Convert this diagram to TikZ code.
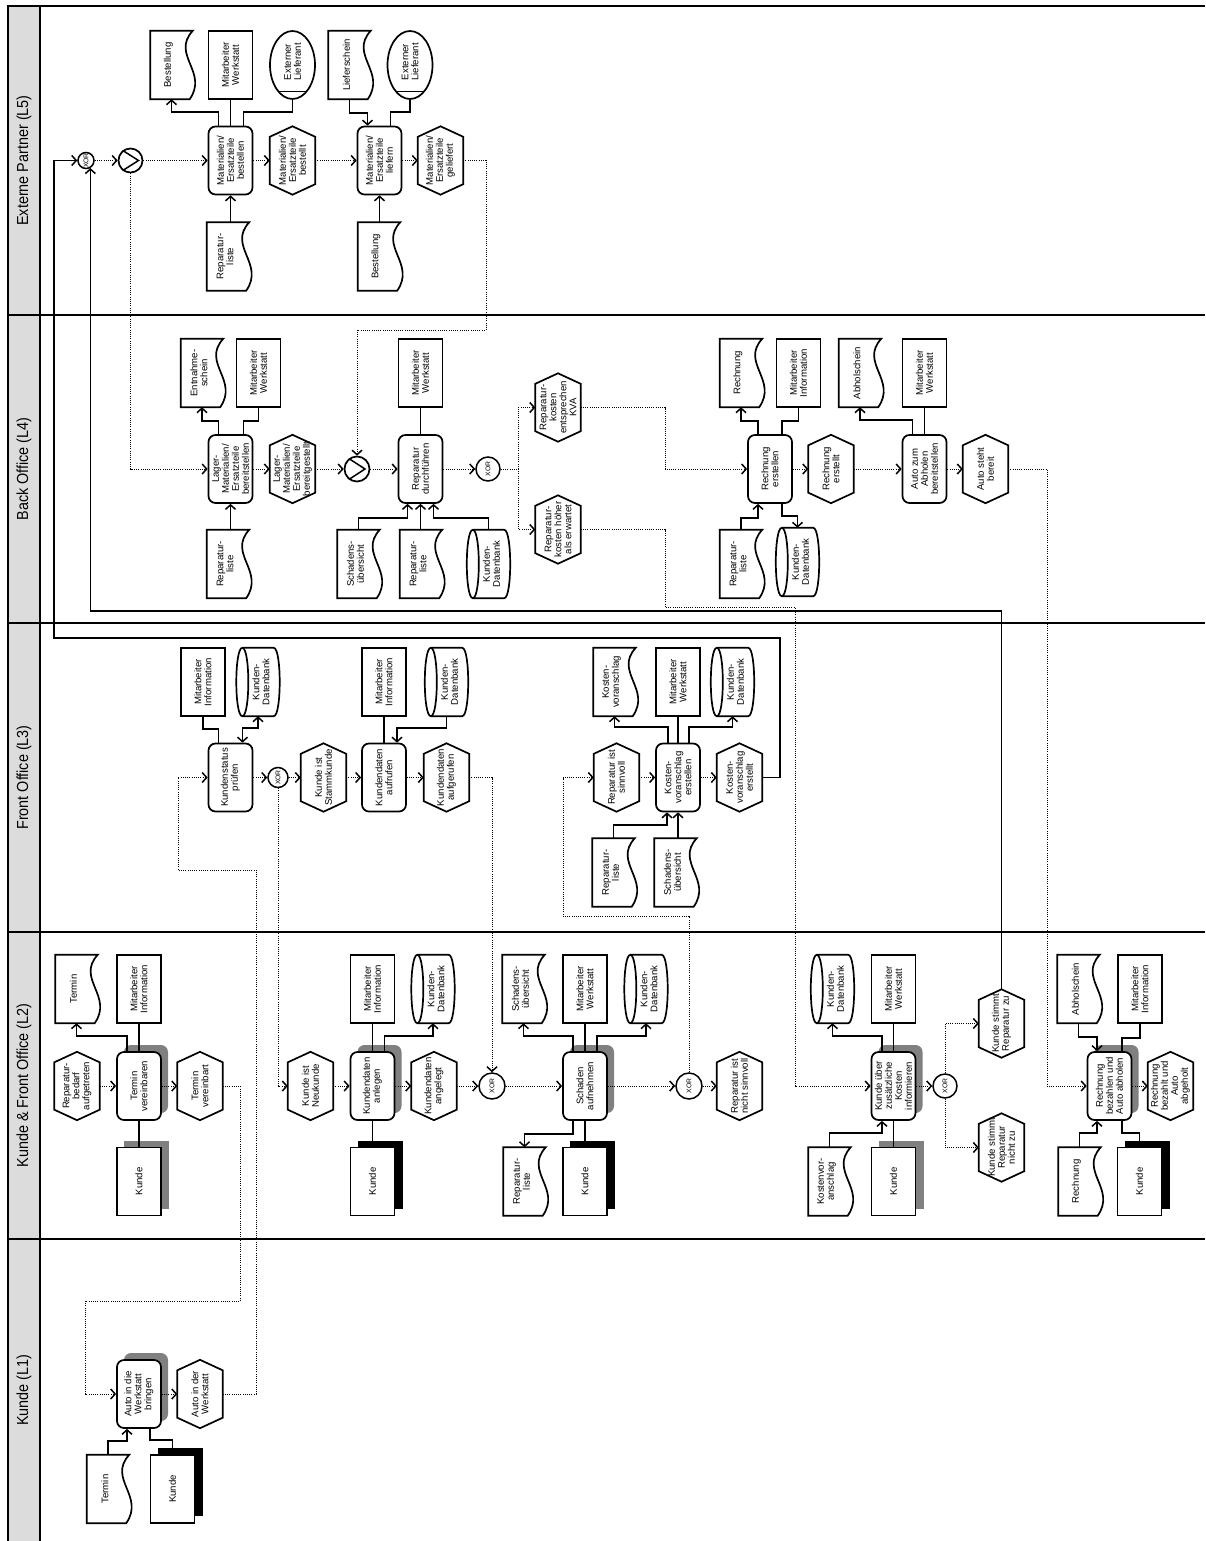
\documentclass[tikz,border=0pt]{standalone}
\usepackage{fontspec}
\setmainfont{Liberation Sans}
\newfontfamily\lanefont[FakeStretch=0.9]{Liberation Sans}
\usetikzlibrary{arrows.meta,calc,shapes.geometric}
\definecolor{lanegray}{RGB}{220,220,220}
\definecolor{shadowgray}{RGB}{128,128,128}

\tikzset{
  >={Straight Barb[length=4.5pt,width=10pt,line width=1.5pt]},
  shp/.style={draw, line width=1.7pt, fill=white},
  fnbox/.style={shp, rectangle, rounded corners=7pt, minimum width=44pt, minimum height=68pt, inner sep=0pt},
  rolebox/.style={shp, rectangle, minimum width=44pt, minimum height=68pt, inner sep=0pt},
  ghost/.style={draw=none, fill=none, rectangle, minimum width=#1, minimum height=68pt, inner sep=0pt},
  txt/.style={rotate=90, align=center, inner sep=0pt, font=\fontsize{9.6}{10}\selectfont},
  lanelbl/.style={rotate=90, inner sep=0pt, font=\lanefont\fontsize{16}{16}\selectfont},
  res/.style={line width=1.7pt},
  flow/.style={line width=0.9pt, dash pattern=on 0.9pt off 1.3pt},
  lane/.style={line width=2.8pt},
}

\newcommand{\mkFn}[3]{\node[fnbox] (#1) at (#2) {}; \node[txt] at (#1.center) {#3};}
\newcommand{\mkFnS}[3]{\fill[shadowgray, rounded corners=7pt] ($(#2)+(-15,-41)$) rectangle ($(#2)+(29,27)$); \mkFn{#1}{#2}{#3}}
\newcommand{\mkEv}[3]{\node[ghost=45pt] (#1) at (#2) {};
  \draw[shp] (#1.north) -- ([yshift=-10.5pt]#1.north east) -- ([yshift=10.5pt]#1.south east) -- (#1.south) -- ([yshift=10.5pt]#1.south west) -- ([yshift=-10.5pt]#1.north west) -- cycle;
  \node[txt] at (#1.center) {#3};}
\newcommand{\mkDoc}[3]{\node[ghost=42pt] (#1) at (#2) {};
  \draw[shp] (#1.north west) -- (#1.north east) .. controls ([xshift=-22pt,yshift=-24pt]#1.north east) and ([xshift=16pt,yshift=27pt]#1.south east) .. ([xshift=-3pt]#1.south east) -- (#1.south west) -- cycle;
  \node[txt] at ([xshift=-3pt]#1.center) {#3};}
\newcommand{\mkRol}[3]{\node[rolebox] (#1) at (#2) {}; \node[txt] at (#1.center) {#3};}
\newcommand{\mkKd}[4]{\fill[#4] ($(#2)+(-15,-41)$) rectangle ($(#2)+(30,27)$); \mkRol{#1}{#2}{#3}}
\newcommand{\mkOrg}[3]{\node[shp, ellipse, minimum width=45pt, minimum height=68pt, inner sep=0pt] (#1) at (#2) {};
  \draw[line width=1.7pt] ($(#1.center)+(-13.8,26.5)$) -- ($(#1.center)+(13.8,26.5)$);
  \node[txt] at ([yshift=3pt]#1.center) {#3};}
\newcommand{\mkDb}[3]{\node[ghost=43pt] (#1) at (#2) {};
  \draw[shp] ([xshift=6pt]#1.north west) -- ([xshift=-6pt]#1.north east) .. controls ([xshift=2pt]#1.north east) and ([xshift=2pt]#1.south east) .. ([xshift=-6pt]#1.south east) -- ([xshift=6pt]#1.south west) .. controls ([xshift=-2pt]#1.south west) and ([xshift=-2pt]#1.north west) .. ([xshift=6pt]#1.north west) -- cycle;
  \draw[line width=1.7pt] ([xshift=6pt]#1.north west) .. controls ([xshift=14pt]#1.north west) and ([xshift=14pt]#1.south west) .. ([xshift=6pt]#1.south west);
  \node[txt] at ([xshift=3pt]#1.center) {#3};}
\newcommand{\mkXor}[3]{\node[shp, circle, minimum size=#3, inner sep=0pt, line width=1.5pt] (#1) at (#2) {};
  \node[rotate=90, inner sep=0pt, font=\fontsize{6.8}{6.8}\selectfont] at (#1.center) {XOR};}
\newcommand{\mkOr}[3]{\node[shp, circle, minimum size=#3, inner sep=0pt] (#1) at (#2) {};
  \draw[line width=1.5pt] (#1.128) -- ([xshift=8pt]#1.center) -- (#1.232);}

\begin{document}
\begin{tikzpicture}[x=1pt, y=-1pt]
\useasboundingbox (0,0) rectangle (1205,1541);
% ---------- lanes
\fill[lanegray] (8,6) rectangle (40,1541);
\draw[line width=2pt] (7,6) -- (1205,6);
\draw[line width=2pt] (8,6) -- (8,1541);
\draw[lane] (40,6) -- (40,1541);
\foreach \yy in {315,623,932,1239} \draw[lane] (8,\yy) -- (1205,\yy);
\node[lanelbl] (l5) at (24,160.5) {Externe Partner (L5)};
\node[lanelbl] (l4) at (24,469) {Back Office (L4)};
\node[lanelbl] (l3) at (24,777.5) {Front Office (L3)};
\node[lanelbl] (l2) at (24,1085.5) {Kunde \& Front Office (L2)};
\node[lanelbl] (l1) at (24,1390) {Kunde (L1)};

% ---------- L5
\mkXor{xor1}{86,160.5}{16pt}
\mkOr{and1}{130.5,160.5}{24pt}
\mkFn{fbest}{230.5,160.5}{Materialien/\\Ersatzteile\\bestellen}
\mkDoc{dbest}{171.5,65}{Bestellung}
\mkRol{mws1}{230.5,65}{Mitarbeiter\\Werkstatt}
\mkOrg{org1}{292.5,65}{Externer\\Lieferant}
\mkDoc{drep1}{228,256.5}{Reparatur-\\liste}
\mkEv{ebest}{292.5,160.5}{Materialien/\\Ersatzteile\\bestellt}
\mkFn{flief}{379.5,160.5}{Materialien/\\Ersatzteile\\liefern}
\mkDoc{dliefs}{349.5,65}{Lieferschein}
\mkOrg{org2}{410,65}{Externer\\Lieferant}
\mkDoc{dbest2}{379,256.5}{Bestellung}
\mkEv{egel}{440.5,160.5}{Materialien/\\Ersatzteile\\geliefert}

% ---------- L4
\mkFn{flager}{230.5,469}{Lager-\\Materialien/\\Ersatzteile\\bereitstellen}
\mkDoc{dentn}{202,373}{Entnahme-\\schein}
\mkRol{mws2}{258.5,373}{Mitarbeiter\\Werkstatt}
\mkDoc{drep2}{228,564}{Reparatur-\\liste}
\mkEv{ebereit}{292.5,469}{Lager-\\Materialien/\\Ersatzteile\\bereitgestellt}
\mkOr{and2}{357,469}{25pt}
\mkFn{frep}{420.5,469}{Reparatur\\durchführen}
\mkRol{mws3}{420.5,373}{Mitarbeiter\\Werkstatt}
\mkDoc{dschad1}{358.5,564}{Schadens-\\übersicht}
\mkDoc{drep3}{421,564}{Reparatur-\\liste}
\mkDb{db1}{488.5,564}{Kunden-\\Datenbank}
\mkXor{xor3}{488,469}{24pt}
\mkEv{ekva}{558,407.5}{Reparatur-\\kosten\\entsprechen\\KVA}
\mkEv{ehoeher}{558,529.5}{Reparatur-\\kosten höher\\als erwartet}
\mkFn{frech}{770,469}{Rechnung\\erstellen}
\mkDoc{drech1}{741,373}{Rechnung}
\mkRol{minfo2}{798.5,373}{Mitarbeiter\\Information}
\mkDoc{drep4}{741,564}{Reparatur-\\liste}
\mkDb{db2}{797.5,562}{Kunden-\\Datenbank}
\mkEv{erech}{831,469}{Rechnung\\erstellt}
\mkFn{fabh}{924.5,469}{Auto zum\\Abholen\\bereitstellen}
\mkDoc{dabh}{860,373}{Abholschein}
\mkRol{mws4}{924.5,373}{Mitarbeiter\\Werkstatt}
\mkEv{ebereit2}{985.5,469}{Auto steht\\bereit}

% ---------- L3
\mkFn{fkst}{230.5,777.5}{Kundenstatus\\prüfen}
\mkRol{minfo3}{203,682}{Mitarbeiter\\Information}
\mkDb{db3}{258,682}{Kunden-\\Datenbank}
\mkXor{xor4}{278,777.5}{20pt}
\mkEv{estamm}{323.5,777.5}{Kunde ist\\Stammkunde}
\mkFn{fkauf}{384,777.5}{Kundendaten\\aufrufen}
\mkRol{minfo4}{384,682}{Mitarbeiter\\Information}
\mkDb{db4}{446.5,682}{Kunden-\\Datenbank}
\mkEv{eaufg}{446.5,777.5}{Kundendaten\\aufgerufen}
\mkEv{esinn}{616.5,777.5}{Reparatur ist\\sinnvoll}
\mkFn{fkva}{678,777.5}{Kosten-\\voranschlag\\erstellen}
\mkDoc{dkva}{614.5,682}{Kosten-\\voranschlag}
\mkRol{mws5}{678,682}{Mitarbeiter\\Werkstatt}
\mkDb{db5}{732.5,682}{Kunden-\\Datenbank}
\mkDoc{drep5}{613.5,872.5}{Reparatur-\\liste}
\mkDoc{dschad2}{675.5,872.5}{Schadens-\\übersicht}
\mkEv{ekvae}{739.5,777.5}{Kosten-\\voranschlag\\erstellt}

% ---------- L2
\mkEv{ebedarf}{77,1086}{Reparatur-\\bedarf\\aufgetreten}
\mkFnS{fterm}{139,1086}{Termin\\vereinbaren}
\mkDoc{dterm}{76.5,989}{Termin}
\mkRol{minfo5}{139,989}{Mitarbeiter\\Information}
\mkKd{k1}{139,1181.5}{Kunde}{shadowgray}
\mkEv{etv}{200,1086}{Termin\\vereinbart}
\mkEv{eneu}{310.5,1086}{Kunde ist\\Neukunde}
\mkFnS{fkanl}{372.5,1086}{Kundendaten\\anlegen}
\mkRol{minfo6}{372.5,989}{Mitarbeiter\\Information}
\mkDb{db6}{433,989}{Kunden-\\Datenbank}
\mkKd{k2}{372.5,1181.5}{Kunde}{black}
\mkEv{eangel}{434,1086}{Kundendaten\\angelegt}
\mkXor{xor5}{492,1086}{26pt}
\mkFnS{fschad}{585,1086}{Schaden\\aufnehmen}
\mkDoc{dschad3}{523.5,989}{Schadens-\\übersicht}
\mkRol{mws6}{585,989}{Mitarbeiter\\Werkstatt}
\mkDb{db7}{646,989}{Kunden-\\Datenbank}
\mkDoc{drep6}{524.5,1181.5}{Reparatur-\\liste}
\mkKd{k3}{585,1181.5}{Kunde}{black}
\mkXor{xor6}{689,1086}{26pt}
\mkEv{ensinn}{739.5,1086}{Reparatur ist\\nicht sinnvoll}
\mkFnS{finfo}{893.5,1086}{Kunde über\\zusätzliche\\Kosten\\informieren}
\mkDb{db8}{832.5,989}{Kunden-\\Datenbank}
\mkRol{mws7}{893.5,989}{Mitarbeiter\\Werkstatt}
\mkDoc{dkv2}{829.5,1181.5}{Kostenvor-\\anschlag}
\mkKd{k4}{893.5,1181.5}{Kunde}{shadowgray}
\mkXor{xor7}{945,1086}{24pt}
\mkEv{ezu}{1001.5,1023.5}{Kunde stimmt\\Reparatur zu}
\mkEv{enzu}{1001.5,1147.5}{Kunde stimmt\\Reparatur\\nicht zu}
\mkFnS{fbez}{1109.5,1086}{Rechnung\\bezahlen und\\Auto abholen}
\mkDoc{dabh2}{1078.5,989}{Abholschein}
\mkRol{minfo7}{1140,989}{Mitarbeiter\\Information}
\mkDoc{drech2}{1079.5,1181.5}{Rechnung}
\mkKd{k5}{1139.5,1181.5}{Kunde}{black}
\mkEv{ebez}{1170.5,1086}{Rechnung\\bezahlt und\\Auto\\abgeholt}

% ---------- L1
\mkFnS{fauto}{139,1394}{Auto in die\\Werkstatt\\bringen}
\mkEv{ewerk}{200,1394}{Auto in der\\Werkstatt}
\mkDoc{dterm2}{108,1489}{Termin}
\mkKd{k6}{172.5,1489}{Kunde}{black}

% ================= connectors
% L5 resources
\draw[res,->] ([xshift=-12pt]fbest.north) -- ++(0,-13.5) -| (dbest.south);
\draw[res] (fbest.north) -- (mws1.south);
\draw[res] ([xshift=13pt]fbest.north) -- ++(0,-13.5) -| (org1.south);
\draw[res,->] (drep1.north -| fbest.south) -- (fbest.south);
\draw[res,->] (dliefs.south) -- ++(0,14) -| ([xshift=-12pt]flief.north);
\draw[res] ([xshift=11pt]flief.north) -- ++(0,-13.5) -| (org2.south);
\draw[res,->] (dbest2.north -| flief.south) -- (flief.south);
% L5 flow
\draw[flow,->] (xor1.east) -- (and1.west);
\draw[flow,->] (and1.east) -- (fbest.west);
\draw[flow,->] (and1.south) |- (flager.west);
\draw[flow,->] (fbest.east) -- (ebest.west);
\draw[flow,->] (ebest.east) -- (flief.west);
\draw[flow,->] (flief.east) -- (egel.west);
\coordinate (w1) at (486,330);
\draw[flow,->] (egel.east) -| (w1) -| (and2.north);

% L4 resources
\draw[res,->] ([xshift=-12pt]flager.north) -- ++(0,-13) -| (dentn.south);
\draw[res] ([xshift=13pt]flager.north) -- ++(0,-13) -| (mws2.south);
\draw[res,->] (drep2.north -| flager.south) -- (flager.south);
\draw[res] (frep.north) -- (mws3.south);
\draw[res,->] (dschad1.north) -- ++(0,-12) -| ([xshift=-13pt]frep.south);
\draw[res,->] (drep3.north -| frep.south) -- (frep.south);
\draw[res,->] (db1.north) -- ++(0,-12) -| ([xshift=13pt]frep.south);
\draw[res,->] ([xshift=-12pt]frech.north) -- ++(0,-13) -| (drech1.south);
\draw[res] ([xshift=12pt]frech.north) -- ++(0,-13) -| (minfo2.south);
\draw[res,->] (drep4.north) -- ++(0,-12) -| ([xshift=-12pt]frech.south);
\draw[res,->] ([xshift=12pt]frech.south) -- ++(0,12) -| (db2.north);
\draw[res,->] ([xshift=-12pt]fabh.north) -- ++(0,-14) -| (dabh.south);
\draw[res] (fabh.north) -- (mws4.south);
% L4 flow
\draw[flow,->] (flager.east) -- (ebereit.west);
\draw[flow,->] (ebereit.east) -- (and2.west);
\draw[flow,->] (and2.east) -- (frep.west);
\draw[flow,->] (frep.east) -- (xor3.west);
\draw[flow,->] (xor3.east) -| ([xshift=-17pt]ekva.west) -- (ekva.west);
\draw[flow,->] (xor3.east) -| ([xshift=-17pt]ehoeher.west) -- (ehoeher.west);
\coordinate (w2) at (665,469);
\draw[flow,->] (ekva.east) -| (w2) -- (frech.west);
\coordinate (w3) at (665,607);
\coordinate (w4) at (795,1086);
\draw[flow,->] (ehoeher.east) -| (w3) -| (w4) -- (finfo.west);
\draw[flow,->] (frech.east) -- (erech.west);
\draw[flow,->] (erech.east) -- (fabh.west);
\draw[flow,->] (fabh.east) -- (ebereit2.west);
\coordinate (w5) at (1047,1086);
\draw[flow,->] (ebereit2.east) -| (w5) -- (fbez.west);

% L3 resources
\draw[res] (minfo3.south) -- ++(0,12) -| ([xshift=-12pt]fkst.north);
\draw[res,<->] (db3.south) -- ++(0,12) -| ([xshift=12pt]fkst.north);
\draw[res] (fkauf.north) -- (minfo4.south);
\draw[res,->] (db4.south) -- ++(0,12) -| ([xshift=13pt]fkauf.north);
\draw[res,->] ([xshift=-10pt]fkva.north) -- ++(0,-15.5) -| (dkva.south);
\draw[res] (fkva.north) -- (mws5.south);
\draw[res,->] ([xshift=11pt]fkva.north) -- ++(0,-15.5) -| (db5.south);
\draw[res,->] (drep5.north) -- ++(0,-13) -| ([xshift=-11pt]fkva.south);
\draw[res,->] (dschad2.north -| fkva.south) -- (fkva.south);
% L3 flow
\coordinate (w6) at (256,870);
\coordinate (w7) at (178,777.5);
\draw[flow,->] (ewerk.east) -| (w6) -| (w7) -- (fkst.west);
\draw[flow,->] (fkst.east) -- (xor4.west);
\draw[flow,->] (xor4.east) -- (estamm.west);
\draw[flow,->] (xor4.south) |- (eneu.west);
\draw[flow,->] (estamm.east) -- (fkauf.west);
\draw[flow,->] (fkauf.east) -- (eaufg.west);
\draw[flow,->] (eaufg.east) -| (xor5.north);
\coordinate (w8) at (563,916);
\draw[flow,->] (xor6.north) |- (w8) |- (esinn.west);
\draw[flow,->] (esinn.east) -- (fkva.west);
\draw[flow,->] (fkva.east) -- (ekvae.west);
% long solid loops back to XOR
\coordinate (w9) at (780,638);
\coordinate (w10) at (54,160.5);
\draw[res,->] (ekvae.east) -| (w9) -| (w10) -- (xor1.west);
\coordinate (w11) at (1001.5,611);
\draw[res,->] (ezu.north) -- (w11) -| (xor1.-60);

% L2 resources
\draw[res,->] ([xshift=-12pt]fterm.north) -- ++(0,-15) -| (dterm.south);
\draw[res] (fterm.north) -- (minfo5.south);
\draw[res] (fterm.south) -- (k1.north);
\draw[res] (fkanl.north) -- (minfo6.south);
\draw[res,->] ([xshift=12pt]fkanl.north) -- ++(0,-15) -| (db6.south);
\draw[res] (fkanl.south) -- (k2.north);
\draw[res,->] ([xshift=-12pt]fschad.north) -- ++(0,-15) -| (dschad3.south);
\draw[res] (fschad.north) -- (mws6.south);
\draw[res,->] ([xshift=12pt]fschad.north) -- ++(0,-15) -| (db7.south);
\draw[res,->] ([xshift=-12pt]fschad.south) -- ++(0,13) -| (drep6.north);
\draw[res] (fschad.south) -- (k3.north);
\draw[res,->] ([xshift=-11.5pt]finfo.north) -- ++(0,-15) -| (db8.south);
\draw[res] (finfo.north) -- (mws7.south);
\draw[res,->] (dkv2.north) -- ++(0,-14) -| ([xshift=-11.5pt]finfo.south);
\draw[res] (finfo.south) -- (k4.north);
\draw[res,->] (dabh2.south) -- ++(0,14) -| ([xshift=-12.5pt]fbez.north);
\draw[res] (minfo7.south) -- ++(0,14) -| ([xshift=12.5pt]fbez.north);
\draw[res,->] (drech2.north) -- ++(0,-14) -| ([xshift=-12.5pt]fbez.south);
\draw[res] (k5.north) -- ++(0,-14) -| ([xshift=12.5pt]fbez.south);
% L2 flow
\draw[flow,->] (ebedarf.east) -- (fterm.west);
\draw[flow,->] (fterm.east) -- (etv.west);
\coordinate (w12) at (240,1301);
\coordinate (w13) at (85,1394);
\draw[flow,->] (etv.east) -| (w12) -| (w13) -- (fauto.west);
\draw[flow,->] (eneu.east) -- (fkanl.west);
\draw[flow,->] (fkanl.east) -- (eangel.west);
\draw[flow,->] (eangel.east) -- (xor5.west);
\draw[flow,->] (xor5.east) -- (fschad.west);
\draw[flow,->] (fschad.east) -- (xor6.west);
\draw[flow,->] (xor6.east) -- (ensinn.west);
\draw[flow,->] (finfo.east) -- (xor7.west);
\draw[flow,->] (xor7.north) |- (ezu.west);
\draw[flow,->] (xor7.south) |- (enzu.west);
\draw[flow,->] (fbez.east) -- (ebez.west);

% L1
\draw[res,->] (dterm2.north) -- ++(0,-14) -| ([xshift=-12pt]fauto.south);
\draw[res] (k6.north) -- ++(0,-14) -| ([xshift=11pt]fauto.south);
\draw[flow,->] (fauto.east) -- (ewerk.west);
\end{tikzpicture}
\end{document}
